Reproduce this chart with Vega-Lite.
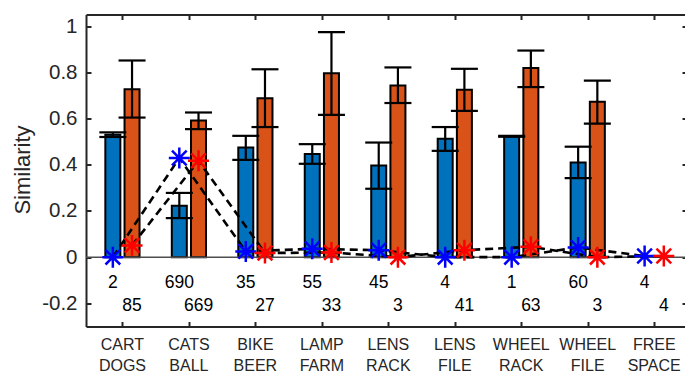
{
  "$schema": "https://vega.github.io/schema/vega-lite/v6.json",
  "width": 599,
  "height": 312,
  "autosize": "none",
  "padding": {"left": 86, "top": 14.5, "right": 0, "bottom": 47.5},
  "config": {"view": {"stroke": null}, "font": "Liberation Sans", "axis": {"grid": false}},
  "data": {"values": [
    {"cat": 1, "label": "CART DOGS", "a": 0.53, "aLo": 0.52, "aHi": 0.54, "b": 0.727, "bLo": 0.604, "bHi": 0.851, "sa": 0, "sb": 0.051, "na": "2", "nb": "85"},
    {"cat": 2, "label": "CATS BALL", "a": 0.223, "aLo": 0.169, "aHi": 0.278, "b": 0.591, "bLo": 0.554, "bHi": 0.626, "sa": 0.429, "sb": 0.417, "na": "690", "nb": "669"},
    {"cat": 3, "label": "BIKE BEER", "a": 0.475, "aLo": 0.421, "aHi": 0.525, "b": 0.688, "bLo": 0.563, "bHi": 0.813, "sa": 0.025, "sb": 0.018, "na": "35", "nb": "27"},
    {"cat": 4, "label": "LAMP FARM", "a": 0.446, "aLo": 0.404, "aHi": 0.489, "b": 0.796, "bLo": 0.616, "bHi": 0.974, "sa": 0.036, "sb": 0.02, "na": "55", "nb": "33"},
    {"cat": 5, "label": "LENS RACK", "a": 0.397, "aLo": 0.296, "aHi": 0.496, "b": 0.743, "bLo": 0.667, "bHi": 0.821, "sa": 0.03, "sb": 0, "na": "45", "nb": "3"},
    {"cat": 6, "label": "LENS FILE", "a": 0.512, "aLo": 0.46, "aHi": 0.563, "b": 0.724, "bLo": 0.633, "bHi": 0.815, "sa": 0, "sb": 0.03, "na": "4", "nb": "41"},
    {"cat": 7, "label": "WHEEL RACK", "a": 0.523, "aLo": 0.521, "aHi": 0.525, "b": 0.818, "bLo": 0.736, "bHi": 0.894, "sa": 0, "sb": 0.045, "na": "1", "nb": "63"},
    {"cat": 8, "label": "WHEEL FILE", "a": 0.41, "aLo": 0.342, "aHi": 0.478, "b": 0.672, "bLo": 0.578, "bHi": 0.764, "sa": 0.042, "sb": 0, "na": "60", "nb": "3"},
    {"cat": 9, "label": "FREE SPACE", "a": null, "aLo": null, "aHi": null, "b": null, "bLo": null, "bHi": null, "sa": 0.005, "sb": 0.005, "na": "4", "nb": "4"}
  ]},
  "resolve": {"axis": {"x": "independent", "y": "independent"}},
  "layer": [
    {
      "mark": {"type": "bar", "size": 15, "xOffset": -9.6, "fill": "#0072BD", "stroke": "#000000", "strokeWidth": 2},
      "encoding": {
        "x": {"field": "cat", "type": "quantitative", "scale": {"domain": [0.527, 9.388], "nice": false, "zero": false},
          "axis": {"orient": "bottom", "values": [1, 2, 3, 4, 5, 6, 7, 8, 9], "labels": false, "title": null, "tickSize": -5, "tickWidth": 2, "tickColor": "#262626", "domainColor": "#262626", "domainWidth": 2}},
        "y": {"field": "a", "type": "quantitative", "scale": {"domain": [-0.3, 1.05], "nice": false},
          "axis": {"orient": "left", "values": [-0.2, 0, 0.2, 0.4, 0.6, 0.8, 1], "labelExpr": "toString(datum.value)", "tickSize": -5, "tickWidth": 2, "tickColor": "#262626", "domainColor": "#262626", "domainWidth": 2, "labelFontSize": 20.5, "labelColor": "#262626", "labelPadding": 14, "title": "Similarity", "titleFontSize": 22, "titleFontWeight": "normal", "titleColor": "#262626", "titleX": -64, "titleY": 155, "titleAngle": -90, "titleAlign": "center", "titleBaseline": "middle"}},
        "y2": {"datum": 0}
      }
    },
    {
      "mark": {"type": "bar", "size": 15, "xOffset": 9.6, "fill": "#D95319", "stroke": "#000000", "strokeWidth": 2},
      "encoding": {
        "x": {"field": "cat", "type": "quantitative", "scale": {"domain": [0.527, 9.388], "nice": false, "zero": false},
          "axis": {"orient": "top", "values": [1, 2, 3, 4, 5, 6, 7, 8, 9], "labels": false, "title": null, "tickSize": -5, "tickWidth": 2, "tickColor": "#262626", "domainColor": "#262626", "domainWidth": 2}},
        "y": {"field": "b", "type": "quantitative", "scale": {"domain": [-0.3, 1.05], "nice": false},
          "axis": {"orient": "right", "values": [-0.2, 0, 0.2, 0.4, 0.6, 0.8, 1], "labels": false, "domain": false, "title": null, "tickSize": -3, "tickWidth": 2, "tickColor": "#262626"}},
        "y2": {"datum": 0}
      }
    },
    {
      "data": {"values": [{}]},
      "mark": {"type": "rule", "stroke": "#4d4d4d", "strokeWidth": 1.5},
      "encoding": {
        "y": {"datum": 0, "type": "quantitative", "scale": {"domain": [-0.3, 1.05], "nice": false}, "axis": null}
      }
    },
    {
      "mark": {"type": "rule", "xOffset": -9.6, "stroke": "#000000", "strokeWidth": 2.2},
      "encoding": {
        "x": {"field": "cat", "type": "quantitative", "scale": {"domain": [0.527, 9.388], "nice": false, "zero": false}, "axis": null},
        "y": {"field": "aLo", "type": "quantitative", "scale": {"domain": [-0.3, 1.05], "nice": false}, "axis": null},
        "y2": {"field": "aHi"}
      }
    },
    {
      "mark": {"type": "tick", "orient": "horizontal", "xOffset": -9.6, "size": 27, "thickness": 2.2, "color": "#000000", "opacity": 1},
      "encoding": {
        "x": {"field": "cat", "type": "quantitative", "scale": {"domain": [0.527, 9.388], "nice": false, "zero": false}, "axis": null},
        "y": {"field": "aLo", "type": "quantitative", "scale": {"domain": [-0.3, 1.05], "nice": false}, "axis": null}
      }
    },
    {
      "mark": {"type": "tick", "orient": "horizontal", "xOffset": -9.6, "size": 27, "thickness": 2.2, "color": "#000000", "opacity": 1},
      "encoding": {
        "x": {"field": "cat", "type": "quantitative", "scale": {"domain": [0.527, 9.388], "nice": false, "zero": false}, "axis": null},
        "y": {"field": "aHi", "type": "quantitative", "scale": {"domain": [-0.3, 1.05], "nice": false}, "axis": null}
      }
    },
    {
      "mark": {"type": "rule", "xOffset": 9.6, "stroke": "#000000", "strokeWidth": 2.2},
      "encoding": {
        "x": {"field": "cat", "type": "quantitative", "scale": {"domain": [0.527, 9.388], "nice": false, "zero": false}, "axis": null},
        "y": {"field": "bLo", "type": "quantitative", "scale": {"domain": [-0.3, 1.05], "nice": false}, "axis": null},
        "y2": {"field": "bHi"}
      }
    },
    {
      "mark": {"type": "tick", "orient": "horizontal", "xOffset": 9.6, "size": 27, "thickness": 2.2, "color": "#000000", "opacity": 1},
      "encoding": {
        "x": {"field": "cat", "type": "quantitative", "scale": {"domain": [0.527, 9.388], "nice": false, "zero": false}, "axis": null},
        "y": {"field": "bLo", "type": "quantitative", "scale": {"domain": [-0.3, 1.05], "nice": false}, "axis": null}
      }
    },
    {
      "mark": {"type": "tick", "orient": "horizontal", "xOffset": 9.6, "size": 27, "thickness": 2.2, "color": "#000000", "opacity": 1},
      "encoding": {
        "x": {"field": "cat", "type": "quantitative", "scale": {"domain": [0.527, 9.388], "nice": false, "zero": false}, "axis": null},
        "y": {"field": "bHi", "type": "quantitative", "scale": {"domain": [-0.3, 1.05], "nice": false}, "axis": null}
      }
    },
    {
      "mark": {"type": "line", "xOffset": -9.6, "stroke": "#000000", "strokeWidth": 2.6, "strokeDash": [8, 5]},
      "encoding": {
        "x": {"field": "cat", "type": "quantitative", "scale": {"domain": [0.527, 9.388], "nice": false, "zero": false}, "axis": null},
        "y": {"field": "sa", "type": "quantitative", "scale": {"domain": [-0.3, 1.05], "nice": false}, "axis": null}
      }
    },
    {
      "mark": {"type": "line", "xOffset": 9.6, "stroke": "#000000", "strokeWidth": 2.6, "strokeDash": [8, 5]},
      "encoding": {
        "x": {"field": "cat", "type": "quantitative", "scale": {"domain": [0.527, 9.388], "nice": false, "zero": false}, "axis": null},
        "y": {"field": "sb", "type": "quantitative", "scale": {"domain": [-0.3, 1.05], "nice": false}, "axis": null}
      }
    },
    {
      "mark": {"type": "point", "shape": "M-1,0H1M0,-1V1M-0.7,-0.7L0.7,0.7M-0.7,0.7L0.7,-0.7", "filled": false, "stroke": "#0000FF", "strokeWidth": 2.5, "size": 440, "opacity": 1, "xOffset": -9.6},
      "encoding": {
        "x": {"field": "cat", "type": "quantitative", "scale": {"domain": [0.527, 9.388], "nice": false, "zero": false}, "axis": null},
        "y": {"field": "sa", "type": "quantitative", "scale": {"domain": [-0.3, 1.05], "nice": false}, "axis": null}
      }
    },
    {
      "mark": {"type": "point", "shape": "M-1,0H1M0,-1V1M-0.7,-0.7L0.7,0.7M-0.7,0.7L0.7,-0.7", "filled": false, "stroke": "#FF0000", "strokeWidth": 2.5, "size": 440, "opacity": 1, "xOffset": 9.6},
      "encoding": {
        "x": {"field": "cat", "type": "quantitative", "scale": {"domain": [0.527, 9.388], "nice": false, "zero": false}, "axis": null},
        "y": {"field": "sb", "type": "quantitative", "scale": {"domain": [-0.3, 1.05], "nice": false}, "axis": null}
      }
    },
    {
      "mark": {"type": "text", "xOffset": -9.6, "fontSize": 17.5, "color": "#000000", "align": "center", "baseline": "alphabetic"},
      "encoding": {
        "x": {"field": "cat", "type": "quantitative", "scale": {"domain": [0.527, 9.388], "nice": false, "zero": false}, "axis": null},
        "y": {"datum": -0.133, "type": "quantitative", "scale": {"domain": [-0.3, 1.05], "nice": false}, "axis": null},
        "text": {"field": "na", "type": "nominal"}
      }
    },
    {
      "mark": {"type": "text", "xOffset": 9.6, "fontSize": 17.5, "color": "#000000", "align": "center", "baseline": "alphabetic"},
      "encoding": {
        "x": {"field": "cat", "type": "quantitative", "scale": {"domain": [0.527, 9.388], "nice": false, "zero": false}, "axis": null},
        "y": {"datum": -0.234, "type": "quantitative", "scale": {"domain": [-0.3, 1.05], "nice": false}, "axis": null},
        "text": {"field": "nb", "type": "nominal"}
      }
    },
    {
      "mark": {"type": "text", "fontSize": 16, "color": "#262626", "align": "center", "baseline": "alphabetic", "lineBreak": " ", "lineHeight": 20.7},
      "encoding": {
        "x": {"field": "cat", "type": "quantitative", "scale": {"domain": [0.527, 9.388], "nice": false, "zero": false}, "axis": null},
        "y": {"datum": -0.403, "type": "quantitative", "scale": {"domain": [-0.3, 1.05], "nice": false}, "axis": null},
        "text": {"field": "label", "type": "nominal"}
      }
    }
  ]
}
